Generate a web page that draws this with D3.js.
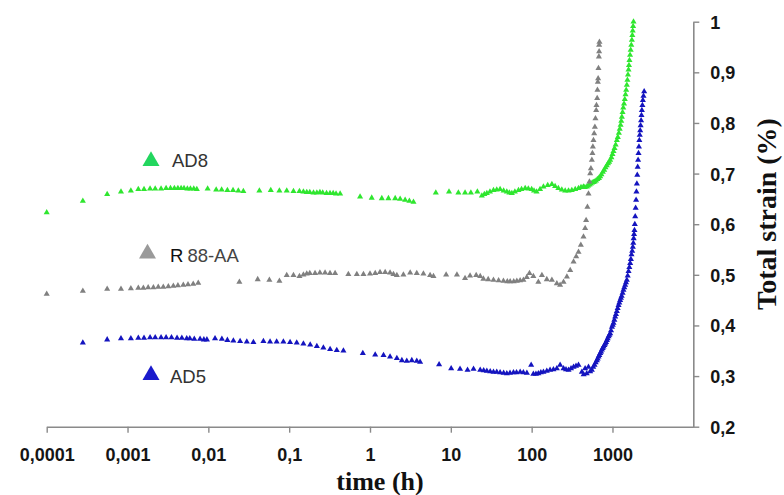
<!DOCTYPE html>
<html>
<head>
<meta charset="utf-8">
<script src="https://cdn.jsdelivr.net/npm/d3@7/dist/d3.min.js"></script>
<style>
  html, body { margin: 0; padding: 0; background: #fff; }
  svg { display: block; }
</style>
</head>
<body>
<svg id="chart" width="784" height="495"></svg>
<script>
// ---- Data (time in hours, total strain in %) ----
const xTickValues = [0.0001, 0.001, 0.01, 0.1, 1, 10, 100, 1000];
const xTickLabels = ["0,0001", "0,001", "0,01", "0,1", "1", "10", "100", "1000"];
const yTickValues = [0.2, 0.3, 0.4, 0.5, 0.6, 0.7, 0.8, 0.9, 1.0];
const yTickLabels = ["0,2", "0,3", "0,4", "0,5", "0,6", "0,7", "0,8", "0,9", "1"];
const seriesNames = ["AD8", "R 88-AA", "AD5"];

const ad8 = [
  [0.0001,0.623],[0.00028,0.646],[0.00056,0.659],[0.00083,0.664],[0.0011,0.666],
  [0.00136,0.669],[0.0016,0.669],[0.0019,0.670],[0.0022,0.670],[0.0026,0.670],[0.003,0.671],[0.0034,0.671],
  [0.0038,0.671],[0.0042,0.671],[0.0046,0.671],[0.005,0.671],[0.0055,0.670],[0.006,0.670],[0.0066,0.670],[0.0072,0.669],
  [0.0098,0.670],[0.0125,0.668],[0.0146,0.668],[0.0172,0.667],[0.0202,0.667],[0.0235,0.666],[0.0271,0.665],
  [0.0428,0.666],[0.0592,0.667],[0.0757,0.666],[0.0933,0.666],[0.113,0.665],[0.134,0.665],
  [0.15,0.664],[0.165,0.663],[0.18,0.663],[0.2,0.662],[0.22,0.662],[0.24,0.663],[0.26,0.662],[0.29,0.661],
  [0.32,0.661],[0.35,0.661],[0.38,0.660],[0.427,0.660],
  [0.754,0.654],[1.05,0.652],[1.4,0.651],[1.69,0.651],[2.05,0.651],[2.36,0.650],[2.72,0.648],[3.07,0.646],[3.45,0.644],
  [6.52,0.662],[9.5,0.664],[12.4,0.662],[15,0.662],[17.7,0.662],[21.3,0.664],
  [24.2,0.656],[26,0.659],[27.9,0.661],[30.5,0.664],[33.7,0.667],[37,0.668],[40.7,0.669],[45,0.666],[49.3,0.664],
  [53,0.662],[56.9,0.661],[62,0.664],[68.7,0.667],[75,0.669],[83.2,0.671],[91,0.670],[100,0.669],[107,0.666],
  [115,0.664],[127,0.669],[140,0.674],[158,0.677],[178,0.679],[195,0.675],[214,0.671],[236,0.668],[260,0.666],
  [286,0.666],[314,0.667],[346,0.669],[380,0.671],[408,0.673],[437,0.674],
  [455,0.673],[482,0.674],[500,0.676],[520,0.678],[540,0.680],[560,0.682],[580,0.683],[600,0.684],[625,0.686],
  [650,0.689],[680,0.691],[705,0.694],[730,0.698],[760,0.703],[790,0.707],[820,0.712],[850,0.716],[880,0.720],
  [910,0.723],[937,0.727],[970,0.732],[1000,0.738],[1030,0.744],[1060,0.750],[1095,0.757],[1133,0.766],[1165,0.772],
  [1200,0.780],[1230,0.788],[1260,0.796],[1285,0.804],[1307,0.812],[1333,0.821],[1360,0.830],[1390,0.838],
  [1420,0.847],[1450,0.856],[1478,0.865],[1505,0.875],[1530,0.885],[1555,0.895],[1580,0.905],[1600,0.914],
  [1623,0.924],[1650,0.934],[1680,0.944],[1710,0.954],[1738,0.964],[1760,0.973],[1780,0.982],[1800,0.991],[1820,1.0]
];

const r88aa = [
  [0.0001,0.462],[0.00028,0.468],[0.00056,0.472],[0.00083,0.472],[0.0011,0.473],
  [0.00136,0.474],[0.00157,0.474],[0.0018,0.475],[0.00209,0.475],[0.0024,0.476],[0.00277,0.476],[0.0032,0.477],
  [0.00369,0.478],[0.0042,0.479],[0.0049,0.480],[0.0056,0.481],[0.0065,0.482],[0.0075,0.484],
  [0.0242,0.486],[0.0408,0.491],[0.0569,0.490],[0.0757,0.488],[0.0933,0.499],[0.113,0.499],[0.134,0.497],
  [0.15,0.500],[0.165,0.502],[0.18,0.503],[0.209,0.503],[0.24,0.504],[0.278,0.504],[0.32,0.503],[0.37,0.503],
  [0.54,0.501],[0.687,0.501],[0.83,0.501],[1.0,0.502],[1.16,0.503],[1.33,0.505],[1.54,0.505],[1.77,0.504],
  [1.95,0.501],[2.15,0.499],[2.59,0.500],[3.14,0.504],[3.79,0.503],[4.58,0.502],[5.54,0.499],[6.1,0.497],
  [8.75,0.500],[11.9,0.500],[15,0.493],[17.3,0.498],[20.6,0.499],[23.1,0.497],
  [25.3,0.492],[29,0.491],[33.7,0.490],[39,0.489],[44.8,0.488],[50,0.487],[54.2,0.487],[60,0.487],[65.6,0.488],
  [72,0.489],[79.1,0.490],[87.1,0.495],[94,0.503],[105,0.497],[121,0.486],[134,0.499],[154,0.491],[178,0.490],
  [205,0.483],[225,0.480],[248,0.486],[273,0.496],[300,0.509],[330,0.526],[356,0.536],[380,0.545],[406,0.559],
  [438,0.575],[459,0.592],[472,0.608],[490,0.634],[505,0.660],[519,0.684],[530,0.700],[541,0.710],[556,0.727],
  [565,0.740],[572,0.753],[582,0.766],[594,0.779],[606,0.792],[616,0.809],[629,0.825],[634,0.835],[647,0.849],
  [652,0.865],[659,0.881],[665,0.888],[671,0.908],[679,0.931],[684,0.941],[684,0.954],[690,0.960]
];

const ad5 = [
  [0.00028,0.366],[0.00056,0.372],[0.00083,0.374],[0.0011,0.374],
  [0.00136,0.375],[0.0016,0.375],[0.0019,0.376],[0.0022,0.376],[0.0026,0.376],[0.003,0.376],[0.0035,0.376],
  [0.0041,0.375],[0.0047,0.375],[0.0054,0.374],[0.0059,0.374],[0.0067,0.373],[0.0079,0.373],[0.0088,0.372],[0.0096,0.372],
  [0.0121,0.374],[0.0147,0.373],[0.0172,0.371],[0.0204,0.370],[0.0247,0.369],[0.0299,0.368],[0.0361,0.367],
  [0.048,0.369],[0.058,0.368],[0.07,0.368],[0.0848,0.368],[0.1026,0.367],[0.124,0.366],[0.15,0.364],[0.182,0.362],
  [0.22,0.359],[0.265,0.356],[0.321,0.353],[0.388,0.351],[0.469,0.350],
  [0.815,0.345],[1.16,0.342],[1.47,0.341],[1.77,0.338],[2.15,0.335],[2.48,0.331],[2.85,0.330],[3.29,0.331],[3.79,0.330],[4.17,0.328],
  [7.16,0.323],[10.1,0.315],[13,0.314],[16.1,0.312],[19.1,0.314],[23.1,0.312],[25.5,0.311],[27.9,0.310],[30.7,0.309],
  [33.7,0.308],[37,0.308],[40.7,0.307],[45,0.306],[49.3,0.305],[54,0.306],[59.6,0.307],[65,0.307],[72.1,0.308],
  [79,0.307],[87.3,0.306],[98.6,0.322],[105,0.304],[113,0.304],[121,0.305],[130,0.307],[140,0.308],[154,0.310],
  [169,0.312],[186,0.313],[205,0.315],[225,0.322],[248,0.315],[266,0.313],[286,0.312],[307,0.315],[330,0.318],
  [354,0.320],[380,0.322],[418,0.308],[440,0.303],[459,0.315],[480,0.305],[505,0.318],[530,0.309],[556,0.312],
  [578,0.318],[600,0.322],[620,0.327],[641,0.331],[656,0.334],[672,0.338],[688,0.341],
  [705,0.345],[722,0.348],[740,0.352],[757,0.355],[775,0.358],[795,0.361],[814,0.364],[833,0.367],[853,0.371],
  [873,0.374],[894,0.378],[915,0.381],[937,0.384],[960,0.390],[985,0.397],[1008,0.401],[1031,0.405],[1055,0.411],
  [1080,0.417],[1105,0.422],[1133,0.428],[1160,0.434],[1188,0.440],[1215,0.445],[1245,0.450],[1272,0.454],
  [1300,0.458],[1335,0.464],[1368,0.470],[1400,0.475],[1435,0.480],[1470,0.485],[1506,0.490],[1543,0.498],
  [1580,0.507],[1618,0.515],[1656,0.523],[1690,0.531],[1720,0.540],[1755,0.547],[1787,0.555],[1810,0.563],
  [1830,0.572],[1850,0.580],[1871,0.588],[1890,0.600],[1911,0.615],[1935,0.632],[1960,0.648],[1980,0.664],
  [2004,0.680],[2027,0.697],[2050,0.713],[2075,0.727],[2100,0.740],[2125,0.753],[2150,0.766],[2176,0.776],
  [2203,0.785],[2230,0.795],[2260,0.805],[2285,0.815],[2311,0.825],[2345,0.835],[2378,0.845],[2420,0.853],[2467,0.862]
];

// ---- Layout ----
const svg = d3.select("#chart");
const x = d3.scaleLog().domain([0.0001, 10000]).range([46.7, 693.3]);
const y = d3.scaleLinear().domain([0.2, 1.0]).range([426.7, 21.7]);

const axisColor = "#8a8a8a";
const tickFont = "'Liberation Sans', Arial, sans-serif";
const titleFont = "'Liberation Serif', 'Times New Roman', serif";

// X axis
const xAxis = svg.append("g")
  .attr("transform", `translate(0,${y(0.2)})`)
  .call(d3.axisBottom(x).tickValues(xTickValues)
    .tickFormat((d, i) => xTickLabels[i]).tickSize(6).tickSizeOuter(0));
xAxis.select(".domain").attr("stroke", axisColor).attr("stroke-width", 1.6);
xAxis.selectAll(".tick line").attr("stroke", axisColor).attr("stroke-width", 1.4);
xAxis.selectAll(".tick text")
  .attr("y", 34.8).attr("dy", 0)
  .attr("fill", "#151515")
  .style("font-family", tickFont).style("font-size", "18px").style("font-weight", "bold");

// Y axis (right)
const yAxis = svg.append("g")
  .attr("transform", `translate(${x(10000)},0)`)
  .call(d3.axisRight(y).tickValues(yTickValues)
    .tickFormat((d, i) => yTickLabels[i]).tickSize(6).tickSizeOuter(0));
yAxis.select(".domain").attr("stroke", axisColor).attr("stroke-width", 1.6);
yAxis.selectAll(".tick line").attr("stroke", axisColor).attr("stroke-width", 1.4);
yAxis.selectAll(".tick text")
  .attr("x", 17).attr("dy", "0.36em")
  .attr("text-anchor", "start")
  .attr("fill", "#151515")
  .style("font-family", tickFont).style("font-size", "18px").style("font-weight", "bold");

// Axis titles
svg.append("text")
  .attr("x", 380).attr("y", 489.5)
  .attr("text-anchor", "middle")
  .style("font-family", titleFont).style("font-size", "26px").style("font-weight", "bold")
  .attr("fill", "#111")
  .text("time (h)");

svg.append("text")
  .attr("transform", "translate(776,214) rotate(-90)")
  .attr("text-anchor", "middle")
  .style("font-family", titleFont).style("font-size", "28px").style("font-weight", "bold")
  .attr("fill", "#111")
  .text("Total strain (%)");

// Markers
const tri = d3.symbol().type(d3.symbolTriangle).size(16);
function drawSeries(data, color) {
  svg.append("g").selectAll("path")
    .data(data)
    .join("path")
    .attr("d", tri)
    .attr("transform", d => `translate(${x(d[0])},${y(d[1])})`)
    .attr("fill", color);
}
drawSeries(ad8, "#2fe62f");
drawSeries(r88aa, "#808080");
drawSeries(ad5, "#1414bf");

// Legend
const legTri = d3.symbol().type(d3.symbolTriangle).size(125);
const legendItems = [
  { name: seriesNames[0], color: "#22d65e", tx: 151, ty: 161, lx: 172, ly: 167 },
  { name: seriesNames[1], color: "#9a9a9a", tx: 147.5, ty: 253.5, lx: 170, ly: 261.5 },
  { name: seriesNames[2], color: "#1a1acc", tx: 151, ty: 375, lx: 170, ly: 383 }
];
legendItems.forEach(it => {
  svg.append("path").attr("d", legTri)
    .attr("transform", `translate(${it.tx},${it.ty})`)
    .attr("fill", it.color);
  const t = svg.append("text")
    .attr("x", it.lx).attr("y", it.ly)
    .style("font-family", tickFont).style("font-size", "18.5px")
    .attr("fill", "#333");
  if (it.name === "R 88-AA") {
    t.append("tspan").attr("fill", "#111").text("R");
    t.append("tspan").attr("dx", 4).attr("fill", "#444").text("88-AA");
  } else {
    t.text(it.name);
  }
});
</script>
</body>
</html>
